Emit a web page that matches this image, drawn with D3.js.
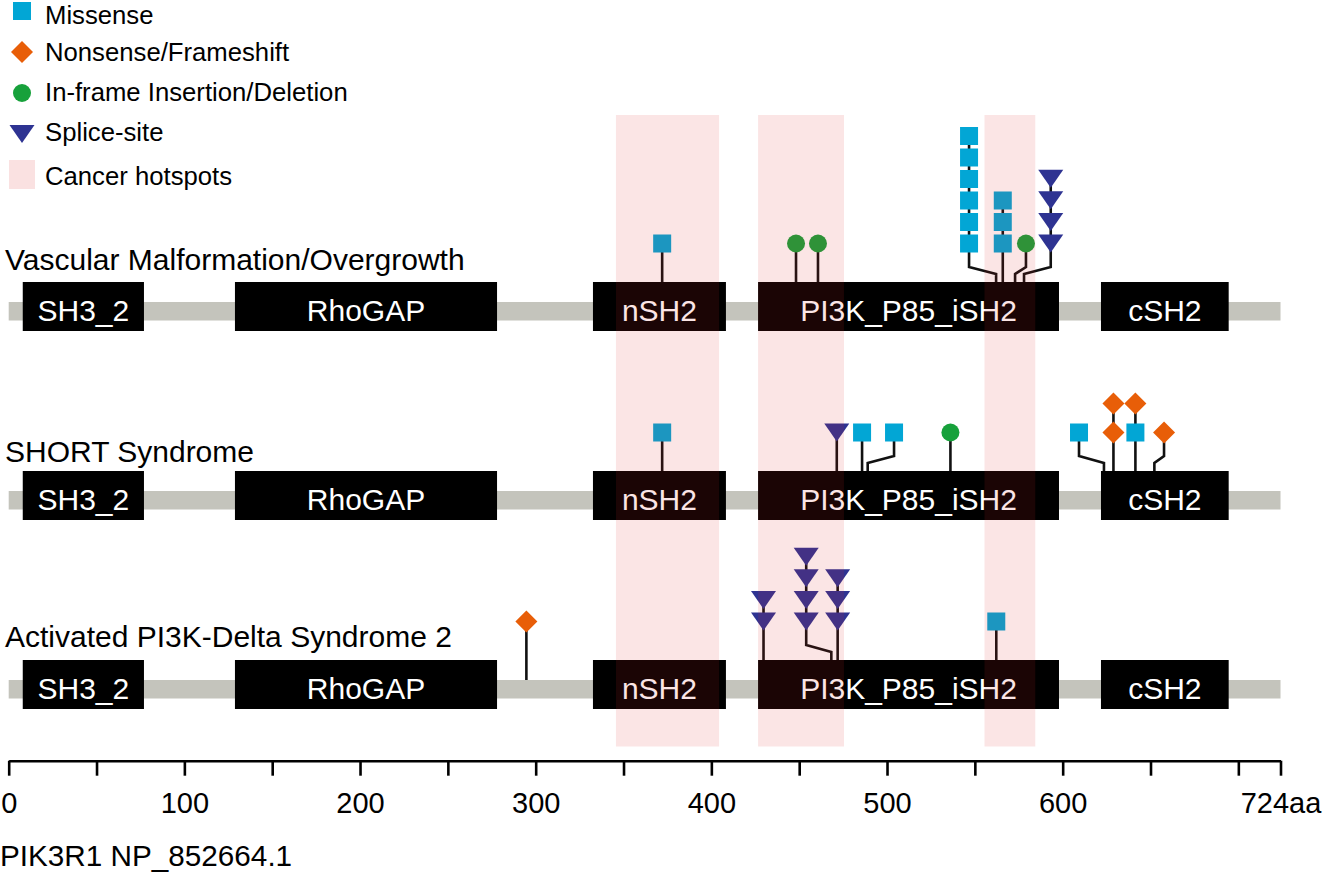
<!DOCTYPE html>
<html>
<head>
<meta charset="utf-8">
<script src="https://cdn.jsdelivr.net/npm/d3@7"></script>
<style>
  html, body { margin: 0; padding: 0; background: #fff; }
  svg { display: block; font-family: "Liberation Sans", Arial, sans-serif; }
</style>
</head>
<body>
<svg id="chart" width="1323" height="875"></svg>
<script>
// ---------------- data ----------------
const proteinLength = 724;
const proteinName = "PIK3R1 NP_852664.1";
const trackNames = ["Vascular Malformation/Overgrowth", "SHORT Syndrome", "Activated PI3K-Delta Syndrome 2"];

const domainNames = ["SH3_2", "RhoGAP", "nSH2", "PI3K_P85_iSH2", "cSH2"];
const domainStart = [8, 128.8, 332.6, 426.6, 621.8];
const domainEnd   = [77, 278, 408.3, 597.9, 694.5];

const hotspotStart = [345.7, 426.6, 555.5];
const hotspotEnd   = [404.4, 475.5, 584.4];

const axisTicks = [0, 50, 100, 150, 200, 250, 300, 350, 400, 450, 500, 550, 600, 650, 700, 724];
const axisLabels = [0, 100, 200, 300, 400, 500, 600, 724];

const legendLabels = ["Missense", "Nonsense/Frameshift", "In-frame Insertion/Deletion", "Splice-site", "Cancer hotspots"];
const legendTypes  = ["M", "N", "I", "S", "H"];

// Track 1: Vascular Malformation/Overgrowth
const vascPos   = [372, 448.2, 460.7, 562.1, 565.9, 572.9, 578];
const vascHead  = [372, 448.2, 460.7, 546.7, 565.9, 579.1, 593.2];
const vascStack = [["M"], ["I"], ["I"], ["M","M","M","M","M","M"], ["M","M","M"], ["I"], ["S","S","S","S"]];

// Track 2: SHORT Syndrome
const shortPos   = [372, 471.4, 485.8, 489, 536.1, 623.5, 628.9, 641.4, 652.2];
const shortHead  = [372, 471.4, 485.8, 504, 536.1, 609.3, 628.9, 641.4, 657.7];
const shortStack = [["M"], ["S"], ["M"], ["M"], ["I"], ["M"], ["N","N"], ["M","N"], ["N"]];

// Track 3: Activated PI3K-Delta Syndrome 2
const apdsPos   = [294.7, 429.7, 468.3, 471.9, 562.2];
const apdsHead  = [294.7, 429.7, 454, 471.9, 562.2];
const apdsStack = [["N"], ["S","S"], ["S","S","S","S"], ["S","S","S"], ["M"]];

// ---------------- styles ----------------
const typeColor = { M: "#02a6d5", N: "#e85e08", I: "#17a13b", S: "#2e3392" };
const stepSize  = { M: 21.5, N: 29, I: 21.5, S: 21.6 };
const backboneColor = "#c4c4bc";
const hotspotColor = "rgb(222,40,40)";
const hotspotOpacity = 0.12;

const svg = d3.select("#chart");
const x = d3.scaleLinear().domain([0, proteinLength]).range([8.7, 1280.5]);

const trackBoxTop = [282, 471, 660];
const trackTitleY = [270, 462, 647];
const boxH = 49;
const backboneOffset = 20;   // from box top to backbone top
const backboneH = 18.5;

const tracks = [
  { name: trackNames[0], pos: vascPos, head: vascHead, stack: vascStack },
  { name: trackNames[1], pos: shortPos, head: shortHead, stack: shortStack },
  { name: trackNames[2], pos: apdsPos, head: apdsHead, stack: apdsStack }
];

const domains = domainNames.map((n, i) => ({ name: n, s: domainStart[i], e: domainEnd[i] }));

function inDomain(p) { return domains.some(d => p >= d.s && p <= d.e); }

function drawSymbol(g, type, cx, cy) {
  const c = typeColor[type];
  if (type === "M") {
    g.append("rect").attr("x", cx - 9).attr("y", cy - 9).attr("width", 18).attr("height", 18).attr("fill", c);
  } else if (type === "N") {
    g.append("path").attr("d", `M${cx},${cy - 11}L${cx + 11},${cy}L${cx},${cy + 11}L${cx - 11},${cy}Z`).attr("fill", c);
  } else if (type === "I") {
    g.append("circle").attr("cx", cx).attr("cy", cy).attr("r", 9).attr("fill", c);
  } else if (type === "S") {
    g.append("path").attr("d", `M${cx - 12.5},${cy - 9}L${cx + 12.5},${cy - 9}L${cx},${cy + 9}Z`).attr("fill", c);
  }
}

// ---------------- tracks ----------------
tracks.forEach((t, ti) => {
  const top = trackBoxTop[ti];
  const g = svg.append("g");

  g.append("text").attr("x", 5).attr("y", trackTitleY[ti]).attr("font-size", 30).attr("fill", "#000").text(t.name);

  // backbone
  g.append("rect")
    .attr("x", x(0)).attr("y", top + backboneOffset)
    .attr("width", x(proteinLength) - x(0)).attr("height", backboneH)
    .attr("fill", backboneColor);

  // domains
  domains.forEach(d => {
    g.append("rect")
      .attr("x", x(d.s)).attr("y", top).attr("width", x(d.e) - x(d.s)).attr("height", boxH)
      .attr("fill", "#000");
    g.append("text")
      .attr("x", (x(d.s) + x(d.e)) / 2).attr("y", top + boxH / 2 + 14)
      .attr("text-anchor", "middle").attr("font-size", 30).attr("fill", "#fff")
      .text(d.name);
  });

  // stems
  t.pos.forEach((p, i) => {
    const px = x(p), hx = x(t.head[i]);
    const bottom = inDomain(p) ? top : top + backboneOffset;
    const headY = top - 38.5;
    let d;
    if (Math.abs(px - hx) > 0.5) {
      d = `M${hx},${headY}V${top - 15}L${px},${top - 8}V${bottom}`;
    } else {
      d = `M${px},${headY}V${bottom}`;
    }
    g.append("path").attr("d", d).attr("fill", "none").attr("stroke", "#111").attr("stroke-width", 2.6);
  });

  // heads
  t.pos.forEach((p, i) => {
    const hx = x(t.head[i]);
    let cy = top - 38.5;
    const st = t.stack[i];
    st.forEach((type, k) => {
      if (k > 0) {
        const step = Math.max(stepSize[type], stepSize[st[k - 1]]);
        cy -= step;
        g.insert("line", ":first-child").attr("x1", hx).attr("x2", hx).attr("y1", cy).attr("y2", cy + step)
          .attr("stroke", "#111").attr("stroke-width", 2.6);
      }
      drawSymbol(g, type, hx, cy);
    });
  });
});

// ---------------- hotspots (overlay) ----------------
svg.append("g").selectAll("rect")
  .data(hotspotStart.map((s, i) => ({ s, e: hotspotEnd[i] })))
  .join("rect")
  .attr("x", d => x(d.s)).attr("y", 115)
  .attr("width", d => x(d.e) - x(d.s)).attr("height", 746.5 - 115)
  .attr("fill", hotspotColor).attr("fill-opacity", hotspotOpacity);

// ---------------- axis ----------------
const axis = d3.axisBottom(x)
  .tickValues(axisTicks)
  .tickSizeInner(15).tickSizeOuter(0).tickPadding(17)
  .tickFormat(v => v === proteinLength ? v + "aa" : (axisLabels.includes(v) ? String(v) : ""));
const ag = svg.append("g").attr("transform", "translate(0,760.7)").call(axis);
ag.select(".domain").attr("stroke", "#000").attr("stroke-width", 2.6);
ag.selectAll(".tick line").attr("stroke", "#000").attr("stroke-width", 2.6);
ag.selectAll(".tick text").attr("font-size", 29).attr("fill", "#000")
  .attr("font-family", "'Liberation Sans', Arial, sans-serif");

svg.append("text").attr("x", 0).attr("y", 866).attr("font-size", 29.7).attr("fill", "#000").text(proteinName);

// ---------------- legend ----------------
const legendY = [11, 52, 93, 134, 174.5];
const legendTextY = [23.5, 61, 101, 140.5, 185];
const lg = svg.append("g");
legendTypes.forEach((type, i) => {
  const cy = legendY[i];
  if (type === "H") {
    lg.append("rect").attr("x", 9).attr("y", cy - 14.5).attr("width", 26).attr("height", 29)
      .attr("fill", hotspotColor).attr("fill-opacity", hotspotOpacity + 0.02);
  } else {
    drawSymbol(lg, type, 22, cy);
  }
  lg.append("text").attr("x", 45).attr("y", legendTextY[i]).attr("font-size", 25.7).attr("fill", "#000").text(legendLabels[i]);
});
</script>
</body>
</html>
